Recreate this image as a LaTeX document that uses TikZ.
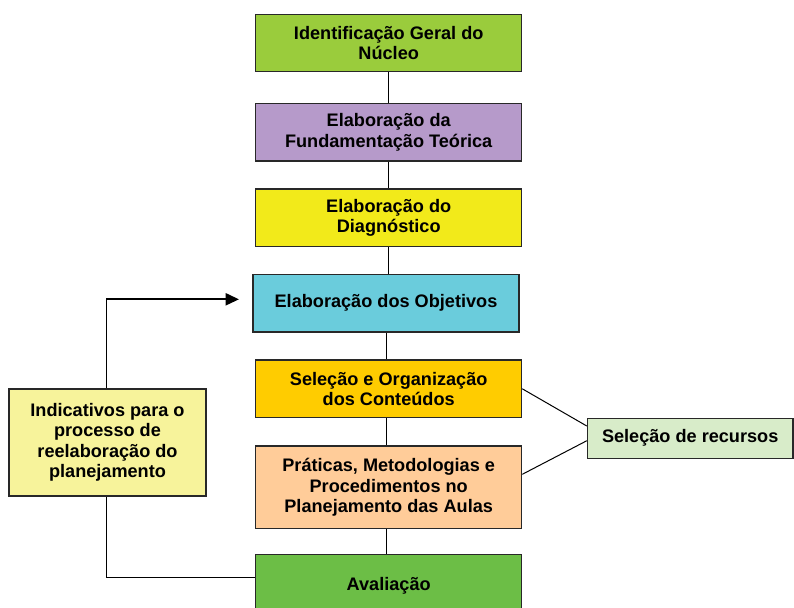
\documentclass[tikz,border=0pt]{standalone}
\usepackage{fontspec}
\setmainfont{Liberation Sans}
\usetikzlibrary{arrows.meta,backgrounds}

\definecolor{cNucleo}{RGB}{154,204,60}
\definecolor{cTeoria}{RGB}{182,154,202}
\definecolor{cDiag}{RGB}{242,234,26}
\definecolor{cObj}{RGB}{106,204,220}
\definecolor{cCont}{RGB}{255,204,0}
\definecolor{cPrat}{RGB}{255,204,153}
\definecolor{cAval}{RGB}{108,190,70}
\definecolor{cIndic}{RGB}{247,243,155}
\definecolor{cRec}{RGB}{216,236,201}
\definecolor{cBorda}{RGB}{40,40,40}

\tikzset{every picture/.style={line width=0.75pt}}
\tikzset{
  etapa/.style={draw=cBorda, line width=0.9pt, align=center, inner sep=0pt,
    minimum width=266*0.75pt, minimum height=57.5*0.75pt,
    font=\fontsize{13.6}{15.4}\selectfont\bfseries},
  ligacao/.style={draw=black, line width=0.75pt},
  retorno/.style={draw=black, line width=1.6pt, -{Triangle[length=10pt,width=9pt]}}
}

\begin{document}
\begin{tikzpicture}[x=0.75pt,y=0.75pt,yscale=-1,xscale=1]
	\useasboundingbox (0,0) rectangle (794,608);

	% Etapas
	\node[etapa, fill=cNucleo] (nucleo) at (388.7,43) {Identificação Geral do\\Núcleo};
	\node[etapa, fill=cTeoria] (teoria) at (388.7,132.2) {Elaboração da\\Fundamentação Teórica};
	\node[etapa, fill=cDiag] (diag) at (388.7,217.8) {Elaboração do\\Diagnóstico};
	\node[etapa, fill=cObj] (objetivos) at (386,303.3) {Elaboração dos Objetivos};
	\node[etapa, fill=cCont] (conteudos) at (388.7,388.8) {Seleção e Organização\\dos Conteúdos};
	\node[etapa, fill=cPrat, minimum height=82.7*0.75pt] (praticas) at (388.7,487.3) {Práticas, Metodologias e\\Procedimentos no\\Planejamento das Aulas};
	\node[etapa, fill=cAval, minimum height=61.5*0.75pt] (avaliacao) at (388.7,585.5) {Avaliação};

	% Text Node
	\node[etapa, fill=cIndic, minimum width=197*0.75pt, minimum height=107*0.75pt] (indicativos) at (107.5,442.5) {Indicativos para o\\processo de\\reelaboração do\\planejamento};
	% Text Node
	\node[etapa, fill=cRec, minimum width=205.5*0.75pt, minimum height=40*0.75pt] (recursos) at (690.2,438.3) {Seleção de recursos};

	\coordinate (canto) at (106,299.3);
	\coordinate (seta) at (239,299.3);

	\begin{scope}[on background layer]
	%Straight Lines
	\draw[ligacao] (nucleo) -- (teoria);
	\draw[ligacao] (teoria) -- (diag);
	\draw[ligacao] (diag.south) -- (diag.south |- objetivos.north);
	\draw[ligacao] (objetivos) -- (objetivos |- conteudos.north);
	\draw[ligacao] ([xshift=-2pt]conteudos.south) -- ([xshift=-2pt]praticas.north);
	\draw[ligacao] ([xshift=-2pt]praticas.south) -- ([xshift=-2pt]avaliacao.north);
	%Straight Lines
	\draw[ligacao] (conteudos.east) -- ([yshift=-9.2pt]recursos.west);
	\draw[ligacao] ([yshift=-9.75pt]praticas.east) -- ([yshift=1.8pt]recursos.west);
	%Straight Lines
	\draw[ligacao] ([yshift=-6.15pt]avaliacao.west) -| (canto);
	\end{scope}
	\draw[retorno] (canto) -- (seta);

\end{tikzpicture}
\end{document}
